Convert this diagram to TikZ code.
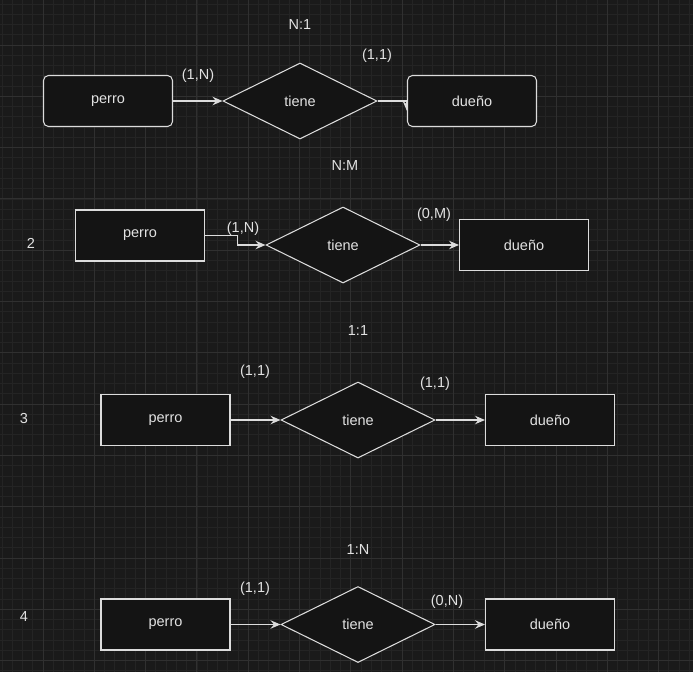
\documentclass[tikz,border=0pt]{standalone}
\usepackage{fontspec}
\setmainfont{Liberation Sans}
\usetikzlibrary{shapes.geometric,arrows.meta}
\definecolor{canvas}{HTML}{1A1A1A}
\definecolor{gridminor}{HTML}{242424}
\definecolor{gridmajor}{HTML}{303030}
\definecolor{boxfill}{HTML}{141414}
\definecolor{ink}{HTML}{DCDCDC}
\definecolor{txt}{HTML}{E2E2E2}
\pgfdeclarelayer{gridlayer}
\pgfdeclarelayer{edgelayer}
\pgfsetlayers{gridlayer,edgelayer,main}
\tikzset{
  entity/.style={rectangle, draw=ink, fill=boxfill, line width=1.05pt,
    minimum width=129pt, minimum height=51pt, inner sep=0pt,
    text=txt, font=\fontsize{14.5}{17}\selectfont},
  roundentity/.style={entity, rounded corners=5pt},
  relation/.style={diamond, draw=ink, fill=boxfill, line width=1.05pt,
    minimum width=154pt, minimum height=76pt, inner sep=0pt,
    text=txt, font=\fontsize{14.5}{17}\selectfont},
  edge/.style={draw=ink, line width=1.05pt,
    -{Stealth[length=10pt,width=8.5pt,inset=3.5pt]}},
  card/.style={text=txt, inner sep=0pt, font=\fontsize{14.5}{17}\selectfont},
}
\begin{document}
\begin{tikzpicture}[x=1pt,y=-1pt]
  \useasboundingbox (0,0) rectangle (693,672);
  % canvas and grid
  \begin{pgfonlayer}{gridlayer}
    \fill[canvas] (0,0) rectangle (693,672);
    \foreach \i in {0,...,68} {
      \draw[gridminor, line width=0.8pt] ({1.96+\i*10.26},0) -- ++(0,672);
      \draw[gridminor, line width=0.8pt] (0,{3.96+\i*10.26}) -- ++(693,0);
    }
    \foreach \i in {0,...,13} {
      \draw[gridmajor, line width=1pt] ({43+\i*51.3},0) -- ++(0,672);
      \draw[gridmajor, line width=1pt] (0,{45+\i*51.3}) -- ++(693,0);
    }
  \end{pgfonlayer}

  % N:1
  \node[card] (h1) at (300,25) {N:1};
  \node[roundentity] (p1) at (108,101) {perro};
  \node[relation] (t1) at (300,101) {tiene};
  \node[roundentity] (d1) at (472,101) {dueño};
  \node[card] (c1a) at (198,76) {(1,N)};
  \node[card] (c1b) at (377,56) {(1,1)};

  % N:M
  \node[card] (h2) at (345,166) {N:M};
  \node[card] (n2) at (31,243) {2};
  \node[entity] (p2) at (140,235.5) {perro};
  \node[relation] (t2) at (343,245) {tiene};
  \node[entity] (d2) at (524,245) {dueño};
  \node[card] (c2a) at (243,229) {(1,N)};
  \node[card] (c2b) at (434,215) {(0,M)};

  % 1:1
  \node[card] (h3) at (358,331) {1:1};
  \node[card] (n3) at (24,419) {3};
  \node[entity] (p3) at (165.5,420) {perro};
  \node[relation] (t3) at (358,420) {tiene};
  \node[entity] (d3) at (550,420) {dueño};
  \node[card] (c3a) at (255,372) {(1,1)};
  \node[card] (c3b) at (435,384) {(1,1)};

  % 1:N
  \node[card] (h4) at (358,550) {1:N};
  \node[card] (n4) at (24,617) {4};
  \node[entity] (p4) at (165.5,624.5) {perro};
  \node[relation] (t4) at (358,624.5) {tiene};
  \node[entity] (d4) at (550,624.5) {dueño};
  \node[card] (c4a) at (255,589) {(1,1)};
  \node[card] (c4b) at (447,602) {(0,N)};

  % connectors
  \begin{pgfonlayer}{edgelayer}
    \draw[edge] (p1.east) -- (t1.west);
    \draw[edge] (t1.east) -- (t1.east -| d1.west) -- ++(0,10);
    \draw[edge] (p2.east) -- ++(32,0) |- (t2.west);
    \draw[edge] (t2.east) -- (d2.west);
    \draw[edge] (p3.east) -- (t3.west);
    \draw[edge] (t3.east) -- (d3.west);
    \draw[edge] (p4.east) -- (t4.west);
    \draw[edge] (t4.east) -- (d4.west);
  \end{pgfonlayer}
\end{tikzpicture}
\end{document}
